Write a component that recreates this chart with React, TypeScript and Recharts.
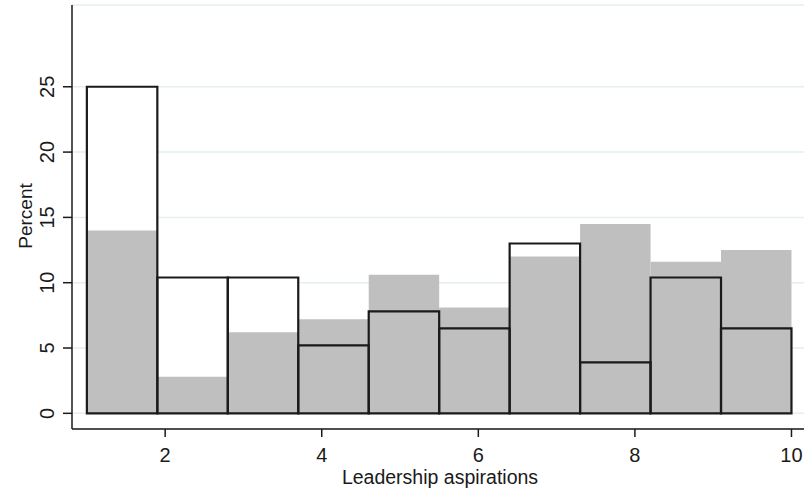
import React from 'react';
import {
    CartesianGrid,
    ComposedChart,
    Label,
    ReferenceArea,
    XAxis,
    YAxis,
} from 'recharts';

// histogram bins: edges shared by both groups
const binEdges = [1, 1.9, 2.8, 3.7, 4.6, 5.5, 6.4, 7.3, 8.2, 9.1, 10];
const grayPct = [14.0, 2.8, 6.2, 7.2, 10.6, 8.1, 12.0, 14.5, 11.6, 12.5];
const outlinePct = [25.0, 10.4, 10.4, 5.2, 7.8, 6.5, 13.0, 3.9, 10.4, 6.5];
const xTicks = [2, 4, 6, 8, 10];
const yTicks = [0, 5, 10, 15, 20, 25];

const FONT = '"Liberation Sans", Arial, sans-serif';
const INK = '#1a1a1a';

const bins = binEdges.slice(0, -1).map((from, i) => ({
    from,
    to: binEdges[i + 1],
    gray: grayPct[i],
    outline: outlinePct[i],
}));

const XTick = (props: any) => {
    const { x, y, payload } = props;
    return (
        <text x={x} y={y + 22.5} textAnchor="middle" fontFamily={FONT} fontSize={20} fill={INK}>
            {payload.value}
        </text>
    );
};

const YTick = (props: any) => {
    const { x, y, payload } = props;
    const bx = x - 7;
    return (
        <text
            x={bx}
            y={y}
            transform={`rotate(-90, ${bx}, ${y})`}
            textAnchor="middle"
            fontFamily={FONT}
            fontSize={20}
            fill={INK}
        >
            {payload.value}
        </text>
    );
};

const PercentLabel = (props: any) => {
    const { viewBox } = props;
    const cy = viewBox.y + viewBox.height / 2 - 1;
    const bx = 32;
    return (
        <text
            x={bx}
            y={cy}
            transform={`rotate(-90, ${bx}, ${cy})`}
            textAnchor="middle"
            fontFamily={FONT}
            fontSize={19}
            fill={INK}
        >
            Percent
        </text>
    );
};

const XTitle = (props: any) => {
    const { viewBox } = props;
    const cx = viewBox.x + viewBox.width / 2 + 2;
    return (
        <text x={cx} y={484} textAnchor="middle" fontFamily={FONT} fontSize={19.5} fill={INK}>
            Leadership aspirations
        </text>
    );
};

const App: React.FC = () => {
    return (
        <div style={{ position: 'absolute', left: 0, top: 0, background: '#fff' }}>
            <ComposedChart
                width={804}
                height={490}
                data={bins}
                margin={{ top: 5, right: 0, bottom: 0, left: 0 }}
            >
                <CartesianGrid
                    horizontal
                    vertical={false}
                    stroke="#e5eef1"
                    strokeWidth={1.5}
                />
                <XAxis
                    type="number"
                    dataKey="from"
                    domain={[0.81, 10.16]}
                    allowDataOverflow
                    ticks={xTicks}
                    height={61}
                    tickSize={8}
                    tick={<XTick />}
                    axisLine={{ stroke: INK, strokeWidth: 1.5 }}
                    tickLine={{ stroke: INK, strokeWidth: 1.5 }}
                >
                    <Label content={<XTitle />} />
                </XAxis>
                <YAxis
                    type="number"
                    domain={[-1.2, 31.26]}
                    allowDataOverflow
                    ticks={yTicks}
                    width={72}
                    tickSize={9}
                    tick={<YTick />}
                    axisLine={{ stroke: INK, strokeWidth: 1.5 }}
                    tickLine={{ stroke: INK, strokeWidth: 1.5 }}
                >
                    <Label content={<PercentLabel />} />
                </YAxis>
                {/* outline group: white body hides the grid */}
                {bins.map((b) => (
                    <ReferenceArea
                        key={`w${b.from}`}
                        x1={b.from}
                        x2={b.to}
                        y1={0}
                        y2={b.outline}
                        fill="#ffffff"
                        fillOpacity={1}
                        stroke="none"
                    />
                ))}
                {bins.map((b) => (
                    <ReferenceArea
                        key={`g${b.from}`}
                        x1={b.from}
                        x2={b.to}
                        y1={0}
                        y2={b.gray}
                        fill="#bfbfbf"
                        fillOpacity={1}
                        stroke="none"
                    />
                ))}
                {bins.map((b) => (
                    <ReferenceArea
                        key={`o${b.from}`}
                        x1={b.from}
                        x2={b.to}
                        y1={0}
                        y2={b.outline}
                        fill="none"
                        stroke={INK}
                        strokeWidth={2.2}
                    />
                ))}
            </ComposedChart>
        </div>
    );
};

export default App;
